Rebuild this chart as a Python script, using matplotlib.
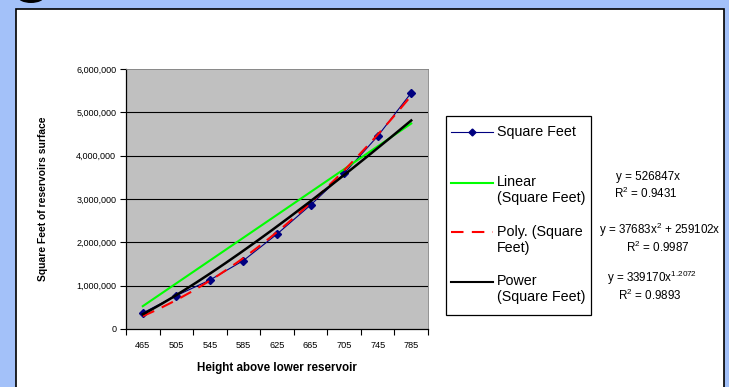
import numpy as np
import matplotlib
matplotlib.use("Agg")
import matplotlib.pyplot as plt
from matplotlib.patches import Rectangle, Ellipse
from matplotlib.lines import Line2D

plt.rcParams['font.family'] = ['Liberation Sans', 'DejaVu Sans']
plt.rcParams['mathtext.fontset'] = 'custom'
plt.rcParams['mathtext.rm'] = 'Liberation Sans'

# ---- data ----
categories = ["465", "505", "545", "585", "625", "665", "705", "745", "785"]
square_feet = [370000, 770000, 1130000, 1580000, 2190000, 2860000, 3590000, 4450000, 5450000]
linear_coef = 526847
poly_a, poly_b = 37683, 259102
power_a, power_b = 339170, 1.2072
y_ticks = [0, 1000000, 2000000, 3000000, 4000000, 5000000, 6000000]
y_tick_labels = ["0", "1,000,000", "2,000,000", "3,000,000", "4,000,000", "5,000,000", "6,000,000"]
legend_labels = ["Square Feet", "Linear\n(Square Feet)", "Poly. (Square\nFeet)", "Power\n(Square Feet)"]
eq_texts = [("y = 526847x", "R$^{\\mathregular{2}}$ = 0.9431"),
            ("y = 37683x$^{\\mathregular{2}}$ + 259102x", "R$^{\\mathregular{2}}$ = 0.9987"),
            ("y = 339170x$^{\\mathregular{1.2072}}$", "R$^{\\mathregular{2}}$ = 0.9893")]

W, H = 729, 387
fig = plt.figure(figsize=(W / 100, H / 100), dpi=100)
fig.patch.set_facecolor('#A3C1F9')

def fx(px):
    return px / W

def fy(py):
    return 1 - py / H

# white panel
fig.patches.append(Rectangle((fx(16), fy(395)), fx(724) - fx(16), fy(9) - fy(395),
                             transform=fig.transFigure, facecolor='white',
                             edgecolor='black', linewidth=1.2, zorder=-5))
fig.patches.append(Ellipse((fx(31), fy(-3)), fx(26), 12 / H,
                           transform=fig.transFigure, facecolor='black',
                           edgecolor='none', zorder=-4))

ax = fig.add_axes([fx(126), fy(329), fx(428) - fx(126), fy(69) - fy(329)])
ax.set_zorder(1)
ax.set_facecolor('#C0C0C0')

x = np.arange(1, len(categories) + 1)
xs = np.linspace(1, len(categories), 200)

ax.plot(x, square_feet, color='#000080', linewidth=0.8, marker='D',
        markersize=4.5, markerfacecolor='#000080', markeredgecolor='#000080', zorder=3)
ax.plot(xs, linear_coef * xs, color='#00FF00', linewidth=1.5, zorder=4)
ax.plot(xs, poly_a * xs ** 2 + poly_b * xs, color='#FF0000', linewidth=1.5,
        dashes=(6, 4), zorder=5)
ax.plot(xs, power_a * xs ** power_b, color='black', linewidth=1.8, zorder=6)

ax.set_xlim(0.5, len(categories) + 0.5)
ax.set_ylim(0, 6000000)
ax.set_yticks(y_ticks)
ax.set_yticklabels(y_tick_labels, fontsize=6.5)
ax.set_xticks(x)
ax.set_xticklabels(categories, fontsize=6.6)
ax.set_xticks(np.arange(0.5, len(categories) + 1, 1), minor=True)
ax.tick_params(axis='x', which='major', length=0, pad=9)
ax.tick_params(axis='x', which='minor', length=4, width=0.8, direction='out')
ax.tick_params(axis='y', length=4, width=0.8, direction='out', pad=3)
for yv in y_ticks[1:-1]:
    ax.axhline(yv, color='black', linewidth=0.8, zorder=1)

for s in ['top', 'right']:
    ax.spines[s].set_color('#808080')
    ax.spines[s].set_linewidth(0.6)
for s in ['left', 'bottom']:
    ax.spines[s].set_color('black')
    ax.spines[s].set_linewidth(0.9)

ax.set_xlabel("Height above lower reservoir", fontsize=8.4, fontweight='bold', labelpad=8)
ax.set_ylabel("Square Feet of reservoirs surface", fontsize=7.4, fontweight='bold', labelpad=20)

# legend box
fig.patches.append(Rectangle((fx(446), fy(315)), fx(591) - fx(446), fy(116) - fy(315),
                             transform=fig.transFigure, facecolor='white',
                             edgecolor='black', linewidth=0.9, zorder=2))
handle_y = [132, 183, 232, 282]
text_y = [132, 190, 240, 289]
styles = [dict(color='#000080', linewidth=0.8, marker='D', markersize=3.5,
               markevery=[1]),
          dict(color='#00FF00', linewidth=1.5),
          dict(color='#FF0000', linewidth=1.5, dashes=(6, 4)),
          dict(color='black', linewidth=1.5)]
for lbl, hy, ty, st in zip(legend_labels, handle_y, text_y, styles):
    ln = Line2D([fx(451), fx(472), fx(493)], [fy(hy)] * 3, transform=fig.transFigure,
                zorder=3, **st)
    fig.lines.append(ln)
    fig.text(fx(497), fy(ty), lbl, fontsize=10.3, va='center', ha='left',
             linespacing=1.1, zorder=3)

eq_pos = [(648, 177, 193), (660, 230, 247), (652, 278, 295)]
for (l1, l2), (cx, y1, y2) in zip(eq_texts, eq_pos):
    fig.text(fx(cx), fy(y1), l1, fontsize=8.4, ha='center', va='center')
    fig.text(fx(cx - 2), fy(y2), l2, fontsize=8.4, ha='center', va='center')

fig.savefig("out.png", dpi=100, facecolor=fig.get_facecolor())
